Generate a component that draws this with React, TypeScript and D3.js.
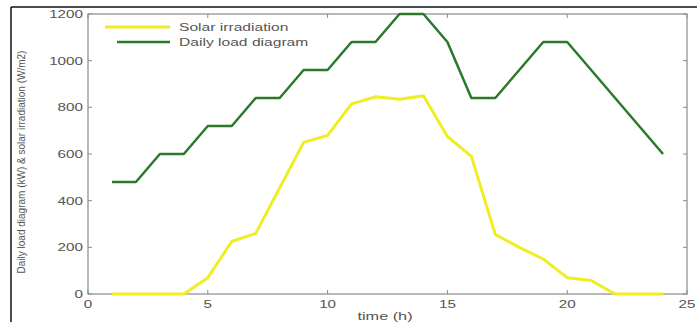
import React from "react";
import * as d3 from "d3";

const hours = [1, 2, 3, 4, 5, 6, 7, 8, 9, 10, 11, 12, 13, 14, 15, 16, 17, 18, 19, 20, 21, 22, 23, 24];
const solar = [0, 0, 0, 0, 70, 225, 260, 455, 650, 680, 815, 845, 835, 850, 675, 590, 255, 200, 150, 70, 58, 0, 0, 0];
const load = [480, 480, 600, 600, 720, 720, 840, 840, 960, 960, 1080, 1080, 1200, 1200, 1080, 840, 840, 960, 1080, 1080, 960, 840, 720, 600];
const xTicks = [0, 5, 10, 15, 20, 25];
const yTicks = [0, 200, 400, 600, 800, 1000, 1200];
const seriesNames = ["Solar irradiation", "Daily load diagram"];

const W = 697;
const H = 322;
const L = 88, R = 687, T = 14, B = 294;
const font = "Liberation Sans, Arial, sans-serif";
const SX = 1.45;

function SText(props: { x: number; y: number; anchor?: string; size?: number; sx?: number; children: React.ReactNode }) {
  const { x, y, anchor = "start", size = 10.5, sx = SX, children } = props;
  return (
    <text
      transform={`translate(${x},${y}) scale(${sx},1)`}
      textAnchor={anchor}
      fontFamily={font}
      fontSize={size}
      fill="#555"
    >
      {children}
    </text>
  );
}

export default function App() {
  const x = d3.scaleLinear().domain([0, 25]).range([L, R]);
  const y = d3.scaleLinear().domain([0, 1200]).range([B, T]);
  const line = d3
    .line<[number, number]>()
    .x((d) => x(d[0]))
    .y((d) => y(d[1]));
  const solarPts = hours.map((h, i) => [h, solar[i]] as [number, number]);
  const loadPts = hours.map((h, i) => [h, load[i]] as [number, number]);
  const axisColor = "#8a8a8a";
  return (
    <div style={{ position: "absolute", left: 0, top: 0 }}>
      <svg width={W} height={H} style={{ display: "block", background: "#fff" }}>
        {/* frame */}
        <line x1={11} y1={7} x2={W} y2={7} stroke="#111" strokeWidth={1.5} />
        <line x1={11} y1={7} x2={11} y2={H} stroke="#111" strokeWidth={1.5} />
        {/* axes box */}
        <rect x={L} y={T} width={R - L} height={B - T} fill="none" stroke={axisColor} strokeWidth={1.2} />
        {xTicks.map((t) => (
          <g key={"xt" + t}>
            <line x1={x(t)} x2={x(t)} y1={B} y2={B - 4} stroke={axisColor} />
            <line x1={x(t)} x2={x(t)} y1={T} y2={T + 4} stroke={axisColor} />
            <SText x={x(t)} y={308} anchor="middle">
              {t}
            </SText>
          </g>
        ))}
        {yTicks.map((t) => (
          <g key={"yt" + t}>
            <line x1={L} x2={L + 4} y1={y(t)} y2={y(t)} stroke={axisColor} />
            <line x1={R} x2={R - 4} y1={y(t)} y2={y(t)} stroke={axisColor} />
            <SText x={83} y={y(t) + 4} anchor="end">
              {t}
            </SText>
          </g>
        ))}
        <SText x={385} y={320} anchor="middle" sx={1.55}>
          time (h)
        </SText>
        <text
          transform={`translate(25,${(T + B) / 2 + 8}) rotate(-90)`}
          textAnchor="middle"
          fontFamily={font}
          fontSize={10}
          fill="#555"
        >
          Daily load diagram (kW) &amp; solar irradiation (W/m2)
        </text>
        {/* series */}
        <path d={line(solarPts) || ""} fill="none" stroke="#eeee22" strokeWidth={3} strokeLinejoin="round" />
        <path d={line(loadPts) || ""} fill="none" stroke="#2a7a2a" strokeWidth={2.5} strokeLinejoin="round" />
        {/* legend */}
        <line x1={105} x2={170} y1={27} y2={27} stroke="#eeee22" strokeWidth={3} />
        <SText x={179} y={31} size={11} sx={1.42}>
          {seriesNames[0]}
        </SText>
        <line x1={117} x2={170} y1={42} y2={42} stroke="#2a7a2a" strokeWidth={2.5} />
        <SText x={179} y={46} size={11} sx={1.42}>
          {seriesNames[1]}
        </SText>
      </svg>
    </div>
  );
}
